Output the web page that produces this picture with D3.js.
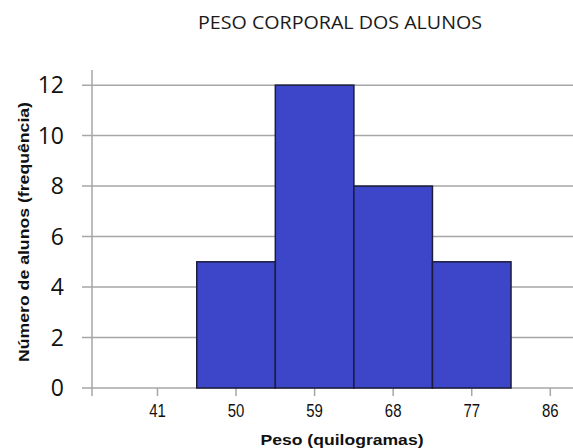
<!DOCTYPE html>
<html><head><meta charset="utf-8">
<script src="https://cdn.jsdelivr.net/npm/d3@7"></script>
<style>body{margin:0;background:#fff}svg{display:block}</style>
</head><body>
<script>
const binCenters = [50, 59, 68, 77];
const frequencies = [5, 12, 8, 5];
const binWidth = 9;
const xTickValues = [41, 50, 59, 68, 77, 86];
const yTickValues = [0, 2, 4, 6, 8, 10, 12];
const title = "PESO CORPORAL DOS ALUNOS";
const xTitle = "Peso (quilogramas)";
const yTitle = "Número de alunos (frequência)";

const W = 573, H = 448;
const svg = d3.select("body").append("svg").attr("width", W).attr("height", H);

const x = d3.scaleLinear().domain([33.5, 88.6]).range([92, 573]);
const y = d3.scaleLinear().domain([0, 12.6]).range([388, 70]);

// gridlines
svg.append("g").selectAll("line").data(yTickValues).join("line")
  .attr("x1", 82).attr("x2", W)
  .attr("y1", d => y(d)).attr("y2", d => y(d))
  .attr("stroke", "#a6a6a6").attr("stroke-width", 1.5);

// y axis line
svg.append("line").attr("x1", 92).attr("x2", 92).attr("y1", y(12.6)).attr("y2", 396)
  .attr("stroke", "#a6a6a6").attr("stroke-width", 1.5);

// x ticks
svg.append("g").selectAll("line").data(xTickValues).join("line")
  .attr("x1", d => x(d)).attr("x2", d => x(d))
  .attr("y1", 388).attr("y2", 396)
  .attr("stroke", "#a6a6a6").attr("stroke-width", 1.5);

// bars
svg.append("g").selectAll("rect").data(binCenters).join("rect")
  .attr("x", d => x(d - binWidth / 2))
  .attr("width", d => x(d + binWidth / 2) - x(d - binWidth / 2))
  .attr("y", (d, i) => y(frequencies[i]))
  .attr("height", (d, i) => y(0) - y(frequencies[i]))
  .attr("fill", "#3d46c8").attr("stroke", "#1c1c3c").attr("stroke-width", 1.5);

// y tick labels
svg.append("g").selectAll("text").data(yTickValues).join("text")
  .attr("x", 64).attr("y", d => y(d) + 8)
  .attr("text-anchor", "end")
  .attr("font-family", "Open Sans, sans-serif")
  .attr("font-size", 23).attr("fill", "#111")
  .text(d => d);

// x tick labels
svg.append("g").selectAll("text").data(xTickValues).join("text")
  .attr("transform", d => `translate(${x(d)},417) scale(0.88,1.1)`)
  .attr("text-anchor", "middle")
  .attr("font-family", "Liberation Sans, Arial, sans-serif")
  .attr("font-size", 17).attr("fill", "#111")
  .text(d => d);

// x title
svg.append("text").attr("x", 342).attr("y", 445)
  .attr("text-anchor", "middle")
  .attr("font-family", "Liberation Sans, Arial, sans-serif")
  .attr("font-weight", "bold").attr("font-size", 15).attr("fill", "#111")
  .attr("textLength", 163).attr("lengthAdjust", "spacingAndGlyphs")
  .text(xTitle);

// y title
svg.append("text").attr("transform", "translate(29,232) rotate(-90)")
  .attr("text-anchor", "middle")
  .attr("font-family", "Liberation Sans, Arial, sans-serif")
  .attr("font-weight", "bold").attr("font-size", 14).attr("fill", "#111")
  .attr("textLength", 260).attr("lengthAdjust", "spacingAndGlyphs")
  .text(yTitle);

// chart title
svg.append("text").attr("x", 340).attr("y", 29)
  .attr("text-anchor", "middle")
  .attr("font-family", "Open Sans, sans-serif")
  .attr("font-size", 19).attr("fill", "#1a1a1a")
  .attr("textLength", 284).attr("lengthAdjust", "spacingAndGlyphs")
  .text(title);
</script>
</body></html>
